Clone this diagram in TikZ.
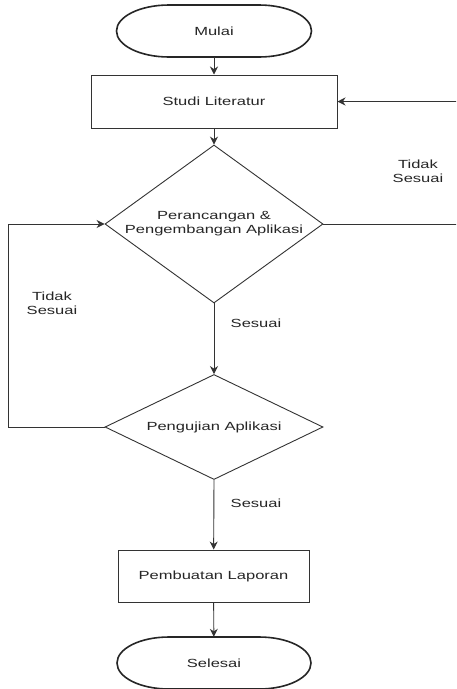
\documentclass[tikz,border=0pt]{standalone}
\usepackage{fontspec}
\setmainfont{Liberation Sans}[FakeStretch=1.4]
\usetikzlibrary{arrows.meta,shapes.geometric}
\definecolor{lc}{HTML}{333333}
\begin{document}
\begin{tikzpicture}[x=1pt,y=-1pt,
  every node/.style={font=\fontsize{11.8}{14}\selectfont, inner sep=0pt, text=black!85},
  term/.style={minimum width=195pt, minimum height=52pt},
  termline/.style={draw=black!85, line width=1.6pt},
  procbox/.style={draw=lc, line width=1pt, minimum height=53pt},
  decis/.style={draw=lc, line width=0.9pt, diamond, inner sep=0pt},
  lbl/.style={align=center},
  arr/.style={draw=lc, line width=0.9pt, -{Stealth[length=8pt,width=8pt]}}]
\useasboundingbox (0,0) rectangle (456,689);
\clip (0,0) rectangle (456,689);
\fill[white] (0,0) rectangle (456,689);

\node[term] (mulai) at (214,31) {Mulai};
\draw[termline, shift={(mulai.center)}] (-45,-26) -- (45,-26)
  .. controls (74,-26) and (97.5,-14.4) .. (97.5,0)
  .. controls (97.5,14.4) and (74,26) .. (45,26) -- (-45,26)
  .. controls (-74,26) and (-97.5,14.4) .. (-97.5,0)
  .. controls (-97.5,-14.4) and (-74,-26) .. (-45,-26) -- cycle;
\node[procbox, minimum width=246pt] (studi) at (214,101.5) {Studi Literatur};
\node[decis, minimum width=218pt, minimum height=158pt] (d1) at (214,224) {};
\node[lbl] (d1t) at (214,224) {Perancangan \&\\Pengembangan Aplikasi};
\node[decis, minimum width=218pt, minimum height=105pt] (d2) at (214,427) {};
\node (d2t) at (214,427) {Pengujian Aplikasi};
\node[procbox, minimum width=191pt, minimum height=52pt] (lap) at (213.5,576) {Pembuatan Laporan};
\node[term, minimum width=194pt] (sel) at (214,663) {Selesai};
\draw[termline, shift={(sel.center)}] (-45,-26) -- (45,-26)
  .. controls (74,-26) and (97,-14.4) .. (97,0)
  .. controls (97,14.4) and (74,26) .. (45,26) -- (-45,26)
  .. controls (-74,26) and (-97,14.4) .. (-97,0)
  .. controls (-97,-14.4) and (-74,-26) .. (-45,-26) -- cycle;

\coordinate (ltop) at (8,224);
\coordinate (rb) at (470,224);
\coordinate (rt) at (470,101.5);

\draw[arr] (mulai) -- (studi);
\draw[arr] (studi) -- (d1.north);
\draw[arr] (d1.south) -- (d2.north);
\draw[arr] (d2.south) -- (lap);
\draw[arr] (lap) -- (sel);
\draw[arr] (d2.west) -| (ltop) -- (d1.west);
\draw[arr] (d1.east) -- (rb) -- (rt) -- (studi.east);

\node[lbl] (t1) at (418,171) {Tidak\\Sesuai};
\node[lbl] (t2) at (52,303) {Tidak\\Sesuai};
\node (s1) at (256,323) {Sesuai};
\node (s2) at (256,503) {Sesuai};
\end{tikzpicture}
\end{document}
